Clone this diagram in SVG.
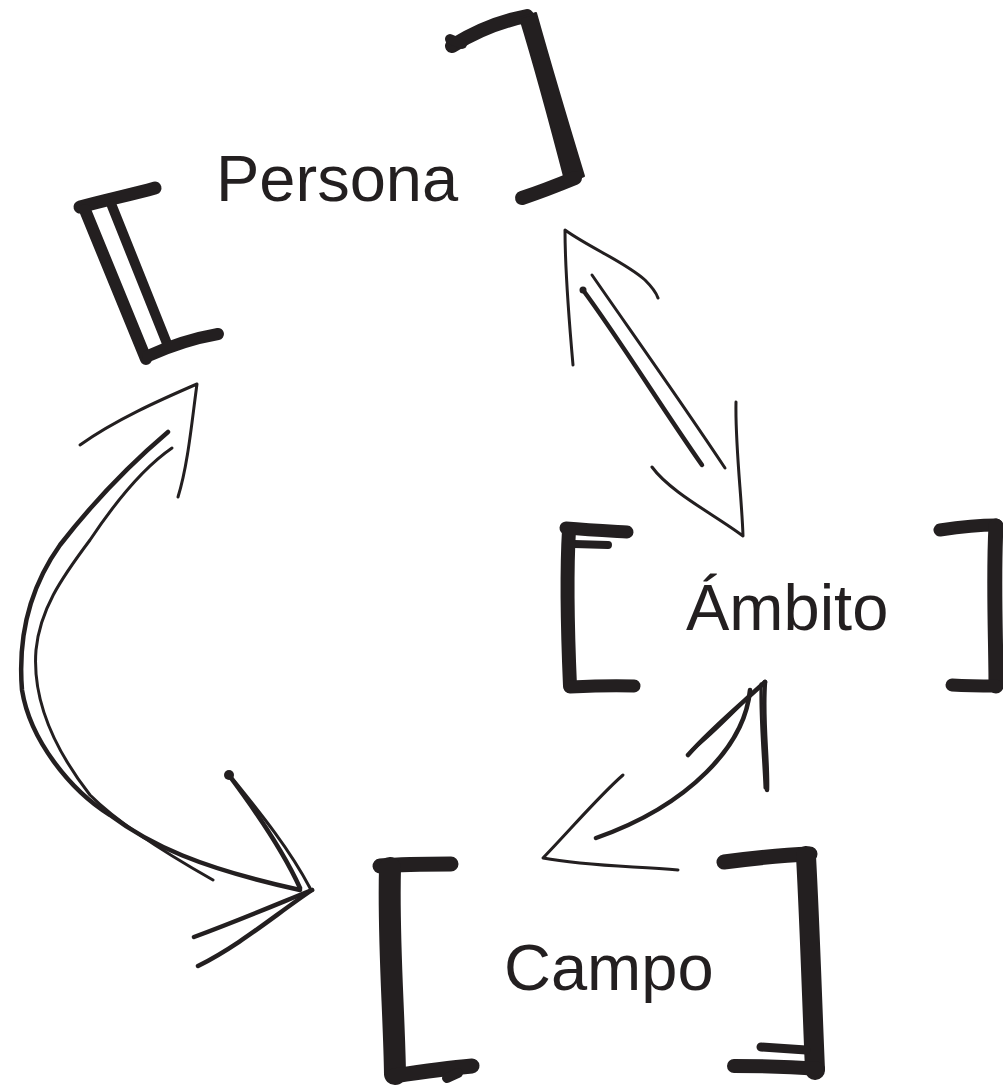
<svg xmlns="http://www.w3.org/2000/svg" width="1003" height="1090" viewBox="0 0 1003 1090">
  <style>
    .label { font-family: "Liberation Sans", Arial, sans-serif; font-size: 65px; fill: #231f20; }
    .br { fill: none; stroke: #231f20; stroke-linecap: round; stroke-linejoin: round; }
    .fillink { fill: #231f20; stroke: #231f20; stroke-width: 2; stroke-linejoin: round; }
    .ink { fill: none; stroke: #231f20; stroke-width: 3; stroke-linecap: round; stroke-linejoin: round; }
    .ink-b { fill: none; stroke: #231f20; stroke-width: 4.5; stroke-linecap: round; stroke-linejoin: round; }
  </style>
  <rect width="1003" height="1090" fill="#ffffff"/>

  <!-- Persona node -->
  <g id="node-persona">
    <!-- left bracket: doubled slanted stem -->
    <path class="br" stroke-width="13" d="M80,207 C105,200 130,195 155,188"/>
    <path class="br" stroke-width="12" d="M85,210 L146,359"/>
    <path class="br" stroke-width="10" d="M112,206 L168,346"/>
    <path class="br" stroke-width="12" d="M148,356 C170,346 195,338 218,334"/>
    <!-- right bracket, tapered stem -->
    <path class="br" stroke-width="14" d="M452,46 C476,31 501,21 527,16"/>
    <path class="br" stroke-width="10" d="M450,39 L462,44"/>
    <path class="fillink" d="M520,18 C536,70 552,130 566,184 L584,176 C570,130 552,70 536,13 Z"/>
    <path class="br" stroke-width="14" d="M575,178 C558,185 540,192 522,198"/>
    <text class="label" x="216" y="201">Persona</text>
  </g>

  <!-- Ámbito node -->
  <g id="node-ambito">
    <path class="br" stroke-width="13" d="M566,528 C590,530 610,531 627,532"/>
    <path class="br" stroke-width="8" d="M574,544 L608,545"/>
    <path class="br" stroke-width="14" d="M569,530 C566,580 568,640 570,686"/>
    <path class="br" stroke-width="13" d="M570,687 C590,686 612,685 634,686"/>
    <path class="br" stroke-width="13" d="M940,530 C960,527 980,525 996,525"/>
    <path class="br" stroke-width="15" d="M996,526 C993,580 996,640 996,686"/>
    <path class="br" stroke-width="13" d="M952,685 C970,686 985,686 996,686"/>
    <text class="label" x="686" y="630">Ámbito</text>
  </g>

  <!-- Campo node -->
  <g id="node-campo">
    <path class="br" stroke-width="15" d="M380,866 C405,864 430,864 451,864"/>
    <path class="br" stroke-width="22" d="M390,868 C388,940 394,1010 395,1074"/>
    <path class="br" stroke-width="15" d="M394,1076 C420,1072 448,1068 472,1066"/>
    <path class="br" stroke-width="10" d="M447,1078 L458,1073"/>
    <path class="br" stroke-width="15" d="M724,862 C755,858 785,855 810,854"/>
    <path class="br" stroke-width="20" d="M806,856 C810,930 812,1000 815,1070"/>
    <path class="br" stroke-width="14" d="M734,1066 C765,1066 793,1067 818,1069"/>
    <path class="br" stroke-width="9" d="M761,1047 L806,1050"/>
    <text class="label" x="504" y="990">Campo</text>
  </g>

  <!-- connectors -->
  <g id="connectors">
    <!-- Persona <-> Ámbito -->
    <g id="edge-persona-ambito">
      <path class="ink" d="M573,365 C569,320 565,270 565,230 C590,248 625,262 645,280 C652,287 656,292 658,298"/>
      <path class="ink-b" d="M583,290 C620,340 660,405 702,465"/>
      <path class="ink" d="M592,275 C630,330 680,400 725,468"/>
      <circle cx="583" cy="290" r="3.5" fill="#231f20"/>
      <path class="ink" d="M736,402 C735,445 742,500 743,536 C715,515 670,492 652,467"/>
    </g>

    <!-- Persona <-> Campo -->
    <g id="edge-persona-campo">
      <path class="ink" d="M80,445 C115,420 160,400 197,384 C192,420 188,465 178,497"/>
      <path class="ink-b" d="M168,432 C135,460 95,500 60,545 C28,590 18,640 22,690 C30,740 70,790 110,815 C150,845 200,868 300,890"/>
      <path class="ink" d="M172,448 C140,470 110,510 90,540 C60,580 40,610 36,650 C32,700 55,750 90,795 C115,820 160,850 213,880"/>
      <path class="ink-b" d="M228,774 C255,810 285,855 300,888"/>
      <path class="ink" d="M232,778 C262,815 290,850 310,888"/>
      <circle cx="229" cy="775" r="5" fill="#231f20"/>
      <path class="ink-b" d="M312,890 C275,905 240,920 194,937"/>
      <path class="ink-b" d="M312,890 C275,915 240,945 198,966"/>
    </g>

    <!-- Ámbito <-> Campo -->
    <g id="edge-ambito-campo">
      <path class="ink-b" d="M765,682 C762,720 768,760 767,790"/>
      <path class="ink" d="M761,684 C760,720 764,760 765,788"/>
      <path class="ink-b" d="M765,682 C740,705 710,730 688,755"/>
      <path class="ink" d="M758,688 C735,710 712,735 692,750"/>
      <path class="ink-b" d="M750,690 C745,745 690,805 596,838"/>
      <path class="ink" d="M623,775 C600,795 570,830 543,858 C585,866 630,866 678,870"/>
    </g>
  </g>
</svg>
